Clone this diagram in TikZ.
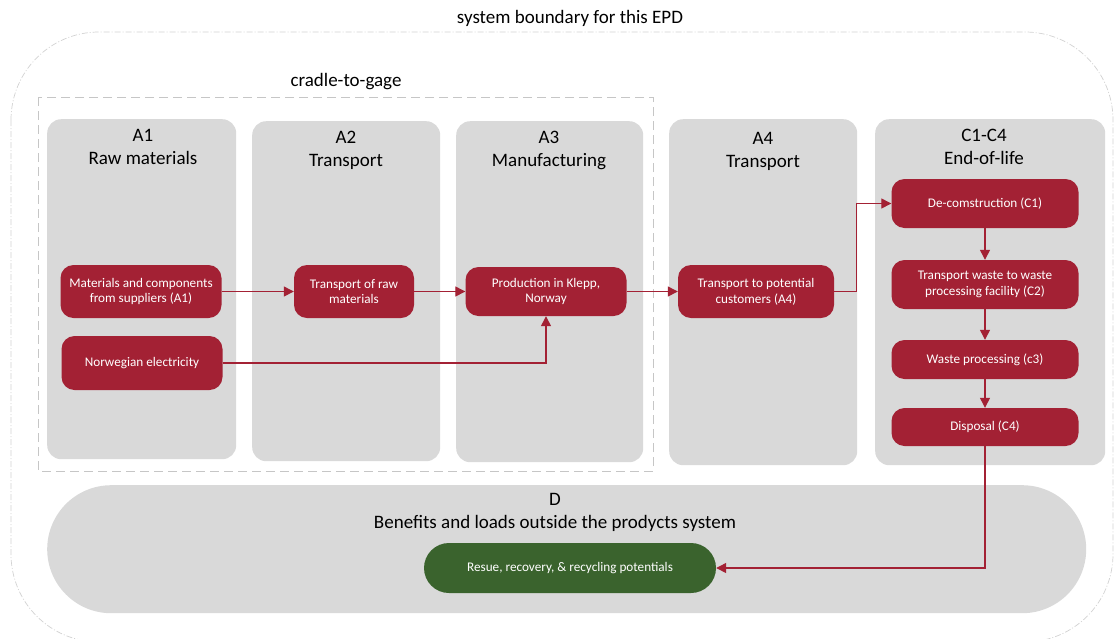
\documentclass[tikz,border=0pt]{standalone}
\usepackage{fontspec}
\setmainfont{Carlito}
\usetikzlibrary{arrows.meta,positioning}
\definecolor{epdred}{RGB}{163,33,52}
\definecolor{epdgreen}{RGB}{58,99,45}
\definecolor{stagegray}{RGB}{217,217,217}
\begin{document}
\begin{tikzpicture}[x=1pt,y=-1pt]
    \tikzset{stage/.style={fill=stagegray,rounded corners=14pt,anchor=north west,inner sep=0pt},
        head/.style={font=\fontsize{19}{23}\selectfont,align=center,inner sep=0pt},
        proc/.style={fill=epdred,text=white,rounded corners=13pt,align=center,inner sep=0pt,
            font=\fontsize{13.2}{15.7}\selectfont},
        flow/.style={draw=epdred,line width=1.3pt,-{Triangle[length=10pt,width=10pt]}}}
    \useasboundingbox (0,0) rectangle (1114,638);
    % system boundary
    \draw[gray!35,line width=0.7pt,dash pattern=on 6pt off 2pt on 1pt off 2pt,rounded corners=88pt]
        (11,32) rectangle (1113,642);
    \node[head] (title) at (570,18) {system boundary for this EPD};
    % cradle-to-gate frame
    \draw[gray!45,line width=0.8pt,dash pattern=on 9pt off 5pt] (38,97) rectangle (653,471);
    \node[head] (cradle) at (346,82) {cradle-to-gage};
    % stage columns
    \node[stage,minimum width=189pt,minimum height=340pt] (colA1) at (47,119) {};
    \node[stage,minimum width=188pt,minimum height=340pt] (colA2) at (252,121) {};
    \node[stage,minimum width=187pt,minimum height=341pt] (colA3) at (456,121) {};
    \node[stage,minimum width=188pt,minimum height=346pt] (colA4) at (669,119) {};
    \node[stage,minimum width=230pt,minimum height=346pt] (colC) at (875,119) {};
    \node[stage,rounded corners=64pt,minimum width=1039pt,minimum height=128pt] (colD) at (47,485) {};
    \node[head] (hA1) at (143,147) {A1\\Raw materials};
    \node[head] (hA2) at (346,150) {A2\\Transport};
    \node[head] (hA3) at (549,150) {A3\\Manufacturing};
    \node[head] (hA4) at (763,151) {A4\\Transport};
    \node[head] (hC) at (984,147) {C1-C4\\End-of-life};
    \node[head] (hD) at (555,512) {D\\Benefits and loads outside the prodycts system};
    % processes
    \node[proc,minimum width=161pt,minimum height=53pt] (mat) at (141,291.5) {Materials and components\\from suppliers (A1)};
    \node[proc,minimum width=161pt,minimum height=54pt] (elec) at (142,363) {Norwegian electricity};
    \node[proc,minimum width=120pt,minimum height=53pt] (traw) at (354,291.5) {Transport of raw\\materials};
    \node[proc,minimum width=161pt,minimum height=49pt] (prod) at (546,291.5) {Production in Klepp,\\Norway};
    \node[proc,minimum width=156pt,minimum height=53pt] (tcust) at (756,291.5) {Transport to potential\\customers (A4)};
    \node[proc,minimum width=187pt,minimum height=49pt] (decon) at (985,203.5) {De-comstruction (C1)};
    \node[proc,minimum width=187pt,minimum height=49pt] (twaste) at (985,284.5) {Transport waste to waste\\processing facility (C2)};
    \node[proc,minimum width=187pt,minimum height=39pt] (wproc) at (985,359.5) {Waste processing (c3)};
    \node[proc,minimum width=187pt,minimum height=38pt] (disp) at (985,427) {Disposal (C4)};
    \node[proc,fill=epdgreen,rounded corners=25pt,minimum width=292pt,minimum height=50pt] (reuse) at (570,568) {Resue, recovery, \& recycling potentials};
    % flows
    \draw[flow] (mat) -- (traw);
    \draw[flow] (traw) -- (prod);
    \draw[flow] (prod) -- (tcust);
    \draw[flow] (elec) -| (prod);
    \draw[flow] (tcust.east) -- ++(22,0) |- (decon);
    \draw[flow] (decon) -- (twaste);
    \draw[flow] (twaste) -- (wproc);
    \draw[flow] (wproc) -- (disp);
    \draw[flow] (disp) |- (reuse);
\end{tikzpicture}
\end{document}
